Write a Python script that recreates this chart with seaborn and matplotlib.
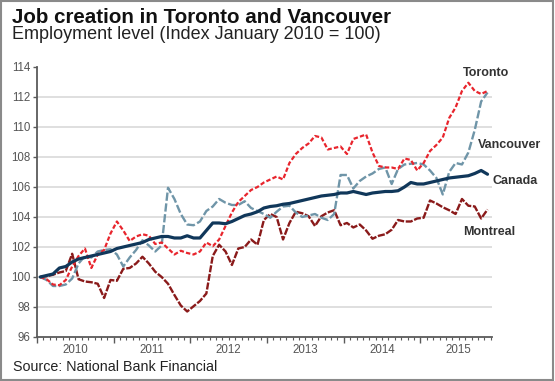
import numpy as np
import pandas as pd
import matplotlib.pyplot as plt
import seaborn as sns
from matplotlib.patches import Rectangle

sns.set_style("white")
plt.rcParams["font.family"] = ["Liberation Sans", "DejaVu Sans"]

# monthly index, Jan 2010 = 100 (Jan 2010 .. Nov 2015)
toronto = [
    100.0, 99.85, 99.5, 99.45, 99.8, 100.7, 101.4, 101.9, 100.6, 101.5, 101.8, 102.9,
    103.7, 103.1, 102.4, 102.7, 102.85, 102.75, 102.2, 102.3, 101.9, 101.5, 101.75, 101.6,
    101.5, 101.7, 102.3, 102.05, 102.5, 103.4, 104.3, 105.0, 105.4, 105.8, 106.0, 106.3,
    106.5, 106.7, 106.5, 107.6, 108.2, 108.6, 108.9, 109.4, 109.3, 108.5, 108.6, 108.7,
    108.2, 109.2, 109.35, 109.5, 108.3, 107.4, 107.3, 107.3, 107.2, 107.9, 107.8, 107.1,
    107.6, 108.4, 108.8, 109.3, 110.6, 111.3, 112.4, 112.95, 112.4, 112.2, 112.4,
]
vancouver = [
    100.0, 99.8, 99.4, 99.4, 99.5, 99.9, 100.9, 101.4, 101.3, 101.7, 101.8, 101.85,
    101.5, 100.7, 101.3, 101.8, 102.45, 102.1, 101.7, 102.1, 105.95, 105.2, 104.2, 103.5,
    103.45, 103.7, 104.4, 104.7, 105.2, 104.95, 104.8, 104.8, 105.05, 104.6, 104.4, 104.2,
    103.95, 104.35, 104.7, 104.75, 104.3, 104.0, 104.1, 104.2, 103.95, 103.8, 104.2, 106.8,
    106.8, 105.9, 106.4, 106.7, 106.9, 107.2, 107.3, 106.2, 107.2, 107.5, 107.55, 107.6,
    107.5, 107.1, 106.6, 105.5, 107.0, 107.6, 107.5, 108.3, 109.8, 111.7, 112.3,
]
canada = [
    100.0, 100.1, 100.2, 100.6, 100.7, 101.0, 101.2, 101.3, 101.4, 101.5, 101.6, 101.7,
    101.9, 102.0, 102.1, 102.2, 102.3, 102.5, 102.6, 102.7, 102.7, 102.6, 102.6, 102.75,
    102.6, 102.6, 103.1, 103.6, 103.6, 103.55, 103.7, 103.9, 104.1, 104.2, 104.35, 104.6,
    104.7, 104.75, 104.85, 104.9, 105.0, 105.1, 105.2, 105.3, 105.4, 105.45, 105.5, 105.6,
    105.6, 105.7, 105.6, 105.5, 105.6, 105.65, 105.7, 105.7, 105.75, 106.0, 106.3, 106.2,
    106.2, 106.3, 106.4, 106.5, 106.6, 106.65, 106.7, 106.75, 106.9, 107.1, 106.85,
]
montreal = [
    100.0, 100.05, 100.15, 100.3, 100.4, 101.55, 99.85, 99.7, 99.65, 99.55, 98.6, 99.8,
    99.75, 100.55, 100.6, 100.9, 101.35, 100.9, 100.35, 100.0, 99.55, 98.8, 98.1, 97.7,
    98.05, 98.4, 98.9, 101.4, 102.15, 101.7, 100.8, 101.9, 102.0, 102.5, 102.15, 103.8,
    104.2, 104.0, 102.5, 103.6, 104.35, 104.25, 104.05, 103.4, 104.05, 104.3, 104.45, 103.45,
    103.6, 103.3, 103.5, 103.1, 102.55, 102.75, 102.85, 103.15, 103.8, 103.7, 103.7, 103.9,
    103.95, 105.1, 104.9, 104.65, 104.45, 104.2, 105.2, 104.75, 104.7, 103.9, 104.5,
]
years = ["2010", "2011", "2012", "2013", "2014", "2015"]

df = pd.DataFrame({
    "month": np.arange(len(canada)),
    "Toronto": toronto,
    "Vancouver": vancouver,
    "Canada": canada,
    "Montreal": montreal,
})

fig = plt.figure(figsize=(5.55, 3.81), dpi=100)
ax = fig.add_axes([0.0667, 0.1155, 0.8198, 0.7087])

# grid lines first
for v in range(98, 114, 2):
    ax.axhline(v, color="#dcdcdc", lw=1.3, zorder=0)

styles = {
    "Montreal": dict(color="#8a1a1a", linewidth=1.7, linestyle=(0, (3, 0.7))),
    "Vancouver": dict(color="#6f95a8", linewidth=1.7, linestyle=(0, (3.5, 1.1))),
    "Toronto": dict(color="#e8252d", linewidth=1.6, linestyle=(0, (2, 1))),
    "Canada": dict(color="#10375a", linewidth=2.3, linestyle="-"),
}
for name, kw in styles.items():
    sns.lineplot(data=df, x="month", y=name, ax=ax, **kw)

ax.set_xlim(-0.5, 70.7)
ax.set_ylim(96, 114)
ax.set_yticks(range(96, 115, 2))
ax.set_xlabel("")
ax.set_ylabel("")

for s in ["top", "right"]:
    ax.spines[s].set_visible(False)
for s in ["left", "bottom"]:
    ax.spines[s].set_color("#5a5a5a")
    ax.spines[s].set_linewidth(1.3)

ax.tick_params(axis="y", length=3, width=1, color="#5a5a5a", labelsize=8.3,
               labelcolor="#555555", pad=2, left=True)
ax.set_xticks([-0.5 + 12 * i for i in range(6)])
ax.set_xticklabels([])
ax.set_xticks([m + 0.5 for m in range(71) if (m + 1) % 12 != 0], minor=True)
ax.tick_params(axis="x", which="major", length=4, width=1, color="#5a5a5a", bottom=True)
ax.tick_params(axis="x", which="minor", length=2, width=0.8, color="#5a5a5a", bottom=True)

for i, yr in enumerate(years):
    ax.text(5.5 + 12 * i, -0.025, yr, transform=ax.get_xaxis_transform(),
            ha="center", va="top", fontsize=8.3, color="#555555")

# series labels on the right
lab = dict(fontsize=9, fontweight="bold", color="#333333", va="center",
           ha="left", clip_on=False)
ax.text(66.2, 113.6, "Toronto", **lab)
ax.text(68.5, 108.8, "Vancouver", **lab)
ax.text(70.7, 106.4, "Canada", **lab)
ax.text(66.2, 103.0, "Montreal", **lab)

fig.text(0.022, 0.94, "Job creation in Toronto and Vancouver", fontsize=14.8,
         fontweight="bold", color="#111111", va="baseline")
fig.text(0.022, 0.897, "Employment level (Index January 2010 = 100)", fontsize=13,
         color="#222222", va="baseline")
fig.text(0.023, 0.025, "Source: National Bank Financial", fontsize=10.3,
         color="#222222", va="baseline")

fig.patches.append(Rectangle((0.002, 0.003), 0.995, 0.994, transform=fig.transFigure,
                             fill=False, edgecolor="#8a8a8a", lw=1.5))

fig.savefig("out.png", dpi=100)
